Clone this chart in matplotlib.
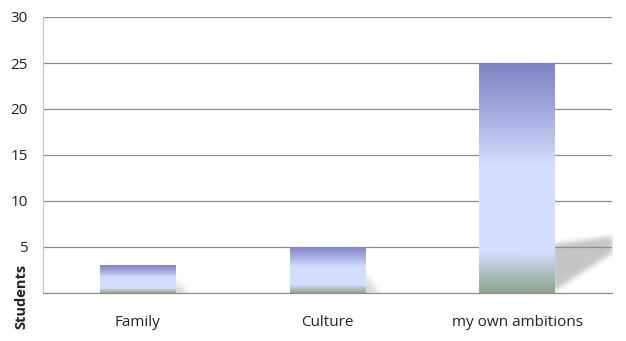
import numpy as np
import matplotlib
matplotlib.use('Agg')
import matplotlib.pyplot as plt
from matplotlib.colors import LinearSegmentedColormap
from matplotlib.patches import Rectangle
from matplotlib.path import Path

categories = ['Family', 'Culture', 'my own ambitions']
students = [3, 5, 25]
yticks = [5, 10, 15, 20, 25, 30]

plt.rcParams['font.family'] = ['Open Sans', 'DejaVu Sans']

bar_cmap = LinearSegmentedColormap.from_list('bar', [
    (0.00, '#8ea689'),
    (0.10, '#b4c4cc'),
    (0.18, '#d4deff'),
    (0.55, '#d4deff'),
    (0.75, '#aab2e4'),
    (1.00, '#7e84c2'),
])

fig = plt.figure(figsize=(6.26, 3.41), dpi=100)
ax = fig.add_axes([43 / 626, 1 - 293 / 341, (612 - 43) / 626, (293 - 17) / 341])

x = np.arange(len(categories))
width = 0.4
ax.set_xlim(-0.5, len(categories) - 0.5)
ax.set_ylim(0, 30)

for y in yticks:
    ax.axhline(y, color='#8c8c8c', lw=0.9, zorder=1)

# pixels per data unit, for the shadow blur
px_x = (612 - 43) / 3.0
px_y = (293 - 17) / 30.0


def blur(a, r):
    k = np.ones(2 * r + 1) / (2 * r + 1)
    for _ in range(3):
        a = np.apply_along_axis(lambda m: np.convolve(m, k, mode='same'), 0, a)
        a = np.apply_along_axis(lambda m: np.convolve(m, k, mode='same'), 1, a)
    return a


grad = np.linspace(0, 1, 256).reshape(-1, 1)
for xi, v in zip(x, students):
    left = xi - width / 2
    right = xi + width / 2

    # soft shadow cast on the floor to the right of the bar
    if v > 10:
        h_edge = 0.21 * v
        dx = 0.3 * v / 25
        pts = [(right - 0.02, 0), (right - 0.02, h_edge), (right + dx, h_edge * 1.17),
               (right + dx, h_edge * 0.83), (right - 0.02, 0)]
        r, a_max = 2, 0.5
    else:
        h_edge = 0.45 * v
        dx = 0.09
        pts = [(right - 0.02, -0.5), (right - 0.02, h_edge), (right + dx, -0.5), (right - 0.02, -0.5)]
        r, a_max = 3, 0.35
    poly = Path(pts)
    x0, x1 = right - 0.08, right + dx + 0.12
    y0, y1 = 0, h_edge * 1.17 + 1.5
    nx = int((x1 - x0) * px_x)
    ny = int((y1 - y0) * px_y)
    gx, gy = np.meshgrid(np.linspace(x0, x1, nx), np.linspace(y0, y1, ny))
    mask = poly.contains_points(np.c_[gx.ravel(), gy.ravel()]).reshape(ny, nx).astype(float)
    mask[0, :] = mask[1, :]
    mask = blur(np.vstack([mask[:1].repeat(6, 0), mask]), r)[6:]
    rgba = np.zeros((ny, nx, 4))
    rgba[..., :3] = 0.55
    rgba[..., 3] = a_max * mask
    ax.imshow(rgba, origin='lower', aspect='auto', extent=(x0, x1, y0, y1), zorder=2,
              interpolation='bilinear')

    rect = Rectangle((left, 0), width, v, facecolor='none', edgecolor='none', zorder=3)
    ax.add_patch(rect)
    im = ax.imshow(grad, cmap=bar_cmap, origin='lower', aspect='auto',
                   extent=(left, right, 0, v), zorder=3)
    im.set_clip_path(rect)

ax.set_xlim(-0.5, len(categories) - 0.5)
ax.set_ylim(0, 30)

ax.set_xticks(x)
ax.set_xticklabels(categories)
ax.set_yticks(yticks)
ax.tick_params(axis='both', length=0, labelsize=11, colors='#222222')
ax.tick_params(axis='y', pad=11)
ax.tick_params(axis='x', pad=16)

for side in ['top', 'right']:
    ax.spines[side].set_visible(False)
ax.spines['left'].set_color('#c8c8c8')
ax.spines['left'].set_linewidth(0.9)
ax.spines['bottom'].set_color('#8c8c8c')
ax.spines['bottom'].set_linewidth(0.9)

fig.text(21 / 626, 1 - 296 / 341, 'Students', rotation=90, ha='center', va='center',
         fontsize=10.5, fontweight='bold', color='#222222')

fig.savefig('out.png', dpi=100)
